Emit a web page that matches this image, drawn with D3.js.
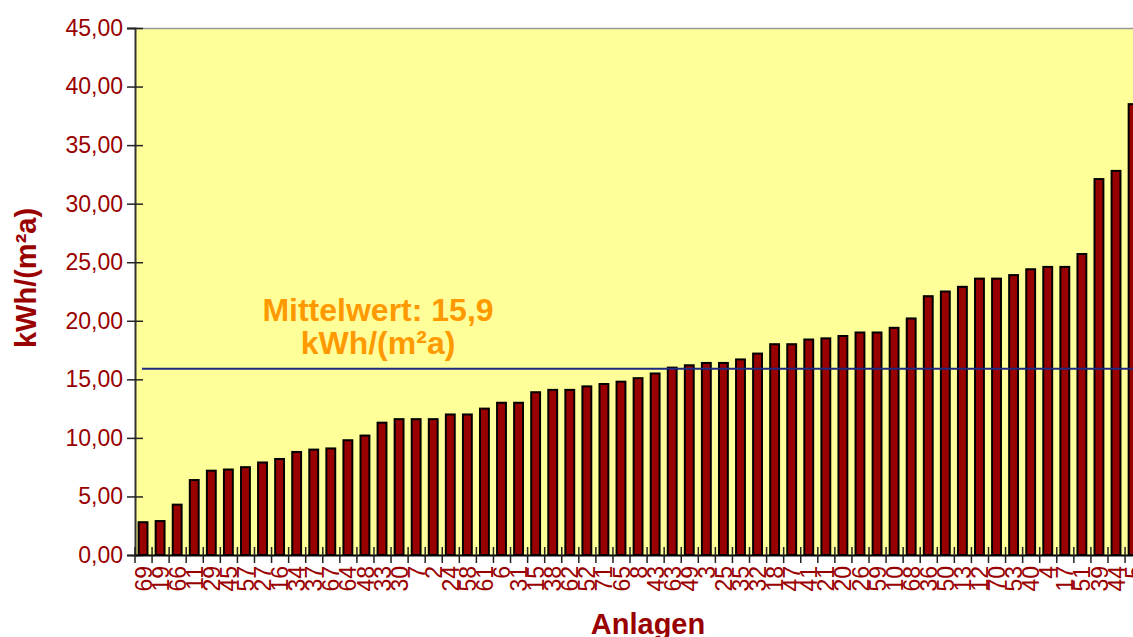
<!DOCTYPE html>
<html>
<head>
<meta charset="utf-8">
<script src="https://cdn.jsdelivr.net/npm/d3@7"></script>
<style>
  body { margin: 0; background: #fff; }
  svg { display: block; font-family: "Liberation Sans", Arial, sans-serif; }
</style>
</head>
<body>
<svg id="chart" width="1133" height="637"></svg>
<script>
// Anlagen-Nummern, sortiert nach Verbrauch
const anlagen = ["69","19","66","11","29","45","57","27","16","34",
                 "37","67","64","48","33","30","7","2","24","58",
                 "61","6","31","15","38","62","52","71","65","8",
                 "43","63","49","3","25","35","32","18","47","41",
                 "21","20","26","59","10","68","36","50","13","12",
                 "70","53","40","4","17","51","39","44","5"];
// kWh/(m²a)
const werte = [2.8, 2.9, 4.3, 6.4, 7.2, 7.3, 7.5, 7.9, 8.2, 8.8,
               9.0, 9.1, 9.8, 10.2, 11.3, 11.6, 11.6, 11.6, 12.0, 12.0,
               12.5, 13.0, 13.0, 13.9, 14.1, 14.1, 14.4, 14.6, 14.8, 15.1,
               15.5, 16.0, 16.2, 16.4, 16.4, 16.7, 17.2, 18.0, 18.0, 18.4,
               18.5, 18.7, 19.0, 19.0, 19.4, 20.2, 22.1, 22.5, 22.9, 23.6,
               23.6, 23.9, 24.4, 24.6, 24.6, 25.7, 32.1, 32.8, 38.5];
const yTicks = [0, 5, 10, 15, 20, 25, 30, 35, 40, 45];
const mittelwert = 15.9;

const data = anlagen.map((a, i) => ({name: a, value: werte[i]}));

const margin = {top: 28, left: 135};
const step = 17.07;
const innerWidth = step * anlagen.length;
const innerHeight = 527;

const red = "#990000";
const svg = d3.select("#chart");
const g = svg.append("g").attr("transform", `translate(${margin.left},${margin.top})`);

const x = d3.scaleBand().domain(anlagen).range([0, innerWidth]).padding(0);
const y = d3.scaleLinear().domain([0, 45]).range([innerHeight, 0]);

const de = d3.formatLocale({decimal: ",", thousands: ".", grouping: [3], currency: ["", " €"]});
const fmt = de.format(".2f");

// plot background
g.append("rect")
  .attr("width", innerWidth + 20)
  .attr("height", innerHeight)
  .attr("fill", "#ffff99");

g.append("line")
  .attr("x1", 0).attr("x2", innerWidth + 20)
  .attr("y1", 0.5).attr("y2", 0.5)
  .attr("stroke", "#999").attr("stroke-width", 1.5);

// bars
const barW = x.bandwidth() * 0.52;
g.selectAll("rect.bar")
  .data(data)
  .join("rect")
  .attr("class", "bar")
  .attr("x", d => x(d.name) + (x.bandwidth() - barW) / 2 - 0.5)
  .attr("y", d => y(d.value))
  .attr("width", barW)
  .attr("height", d => innerHeight - y(d.value))
  .attr("fill", red)
  .attr("stroke", "#000")
  .attr("stroke-width", 2);

// mean line
g.append("line")
  .attr("x1", 7).attr("x2", innerWidth + 20)
  .attr("y1", y(mittelwert)).attr("y2", y(mittelwert))
  .attr("stroke", "#1f2a80").attr("stroke-width", 2);

const mt = g.append("text")
  .attr("x", 243)
  .attr("y", y(mittelwert) - 48)
  .attr("text-anchor", "middle")
  .attr("fill", "#ff9900")
  .attr("font-weight", "bold")
  .attr("font-size", 32);
mt.append("tspan").attr("x", 243).text("Mittelwert: 15,9");
mt.append("tspan").attr("x", 243).attr("dy", 33).text("kWh/(m²a)");

// y axis
const yAxis = g.append("g")
  .call(d3.axisLeft(y).tickValues(yTicks).tickFormat(fmt).tickSize(8));
yAxis.select(".domain").attr("stroke", "#333").attr("stroke-width", 2);
yAxis.selectAll(".tick line").attr("x1", 8).attr("x2", -8).attr("stroke", "#222").attr("stroke-width", 1.5);
yAxis.selectAll(".tick text")
  .attr("x", -12)
  .attr("fill", red)
  .attr("font-size", 23)
  .attr("font-family", "Liberation Sans, Arial, sans-serif");

// x axis
const xAxis = g.append("g")
  .attr("transform", `translate(0,${innerHeight})`)
  .call(d3.axisBottom(x).tickSize(0));
xAxis.select(".domain").attr("stroke", "#000").attr("stroke-width", 2);
xAxis.selectAll(".tick text")
  .attr("transform", "translate(0,11) rotate(-90)")
  .attr("x", 0).attr("y", 0).attr("dy", "0.35em")
  .attr("text-anchor", "end")
  .attr("fill", red)
  .attr("font-size", 23)
  .attr("font-family", "Liberation Sans, Arial, sans-serif");

const bounds = anlagen.map(a => x(a)).concat([x.range()[1]]);
xAxis.selectAll("line.grenze")
  .data(bounds)
  .join("line")
  .attr("class", "grenze")
  .attr("x1", d => d).attr("x2", d => d)
  .attr("y1", -8).attr("y2", 8)
  .attr("stroke", "#222").attr("stroke-width", 1.5);

// axis titles
svg.append("text")
  .attr("transform", `translate(36,${margin.top + 250}) rotate(-90)`)
  .attr("text-anchor", "middle")
  .attr("fill", red)
  .attr("font-weight", "bold")
  .attr("font-size", 29)
  .text("kWh/(m²a)");

svg.append("text")
  .attr("x", 648)
  .attr("y", 634)
  .attr("text-anchor", "middle")
  .attr("fill", red)
  .attr("font-weight", "bold")
  .attr("font-size", 29)
  .text("Anlagen");
</script>
</body>
</html>
